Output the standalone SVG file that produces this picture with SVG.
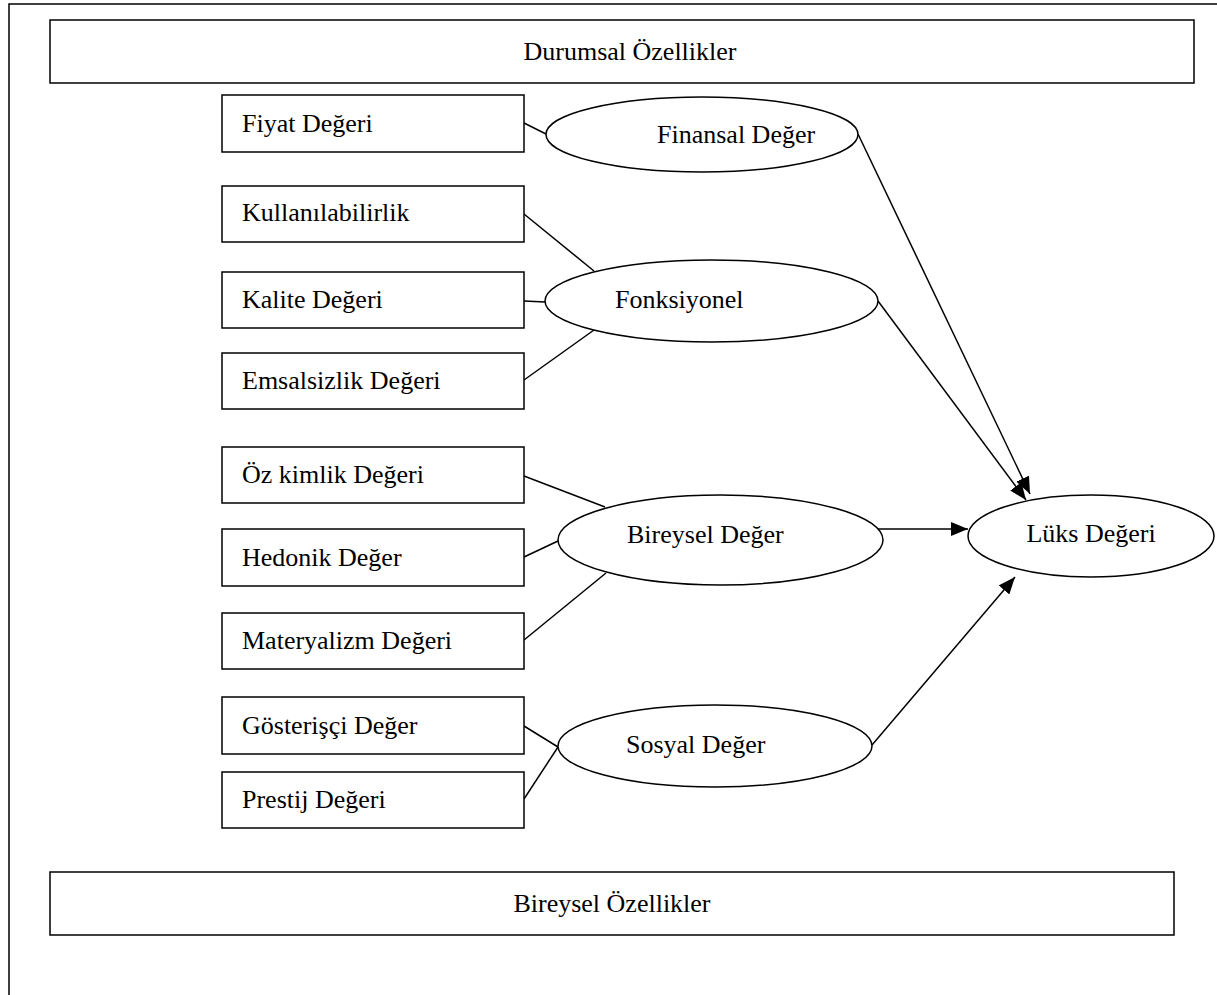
<svg xmlns="http://www.w3.org/2000/svg" width="1217" height="995" viewBox="0 0 1217 995">
<style>
.b{fill:#fff;stroke:#000;stroke-width:1.5}
.l{fill:none;stroke:#000;stroke-width:1.5}
text{font-family:"Liberation Serif","Times New Roman",serif;font-size:26px;fill:#000}
</style>
<defs>
<marker id="ah" markerUnits="userSpaceOnUse" markerWidth="18" markerHeight="14" refX="17" refY="7" orient="auto">
<path d="M0,0 L17,7 L0,14 Z" fill="#000"/>
</marker>
</defs>
<rect width="1217" height="995" fill="#fff"/>
<g id="frame"><path class="l" d="M9,995 V4 H1217"/></g>
<g id="durumsal"><rect class="b" x="50" y="20" width="1144" height="63"/><text x="630" y="60" text-anchor="middle">Durumsal Özellikler</text></g>
<g id="bireyselOz"><rect class="b" x="50" y="872" width="1124" height="63"/><text x="612" y="912" text-anchor="middle">Bireysel Özellikler</text></g>
<g id="connectors">
<line class="l" x1="524" y1="123" x2="546" y2="134"/>
<line class="l" x1="524" y1="214" x2="594" y2="271"/>
<line class="l" x1="524" y1="301" x2="545" y2="302"/>
<line class="l" x1="524" y1="380" x2="594" y2="330"/>
<line class="l" x1="524" y1="476" x2="605" y2="507"/>
<line class="l" x1="524" y1="557" x2="558" y2="541"/>
<line class="l" x1="524" y1="640" x2="606" y2="573"/>
<line class="l" x1="524" y1="726" x2="558" y2="747"/>
<line class="l" x1="524" y1="799" x2="558" y2="747"/>
<line class="l" x1="858" y1="134" x2="1030" y2="494" marker-end="url(#ah)"/>
<line class="l" x1="878" y1="301" x2="1026" y2="500" marker-end="url(#ah)"/>
<line class="l" x1="872" y1="529" x2="968" y2="529" marker-end="url(#ah)"/>
<line class="l" x1="872" y1="745" x2="1015" y2="577" marker-end="url(#ah)"/>
</g>
<g id="fiyat"><rect class="b" x="222" y="95" width="302" height="57"/><text x="242" y="132">Fiyat Değeri</text></g>
<g id="kullan"><rect class="b" x="222" y="186" width="302" height="56"/><text x="242" y="221">Kullanılabilirlik</text></g>
<g id="kalite"><rect class="b" x="222" y="272" width="302" height="56"/><text x="242" y="308">Kalite Değeri</text></g>
<g id="emsal"><rect class="b" x="222" y="353" width="302" height="56"/><text x="242" y="389">Emsalsizlik Değeri</text></g>
<g id="ozkimlik"><rect class="b" x="222" y="447" width="302" height="56"/><text x="242" y="483">Öz kimlik Değeri</text></g>
<g id="hedonik"><rect class="b" x="222" y="529" width="302" height="57"/><text x="242" y="566">Hedonik Değer</text></g>
<g id="materyalizm"><rect class="b" x="222" y="613" width="302" height="56"/><text x="242" y="649">Materyalizm Değeri</text></g>
<g id="gosteris"><rect class="b" x="222" y="697" width="302" height="57"/><text x="242" y="734">Gösterişçi Değer</text></g>
<g id="prestij"><rect class="b" x="222" y="772" width="302" height="56"/><text x="242" y="808">Prestij Değeri</text></g>
<g id="finansal"><ellipse class="b" cx="702" cy="134.5" rx="156" ry="37.5"/><text x="657" y="143">Finansal Değer</text></g>
<g id="fonksiyonel"><ellipse class="b" cx="711.5" cy="301" rx="166.5" ry="41"/><text x="615" y="308">Fonksiyonel</text></g>
<g id="bireysel"><ellipse class="b" cx="720.5" cy="540" rx="162.5" ry="45"/><text x="627" y="543">Bireysel Değer</text></g>
<g id="sosyal"><ellipse class="b" cx="715" cy="746" rx="157" ry="41"/><text x="626" y="753">Sosyal Değer</text></g>
<g id="luks"><ellipse class="b" cx="1091" cy="536" rx="123" ry="41"/><text x="1091" y="542" text-anchor="middle">Lüks Değeri</text></g>
</svg>
